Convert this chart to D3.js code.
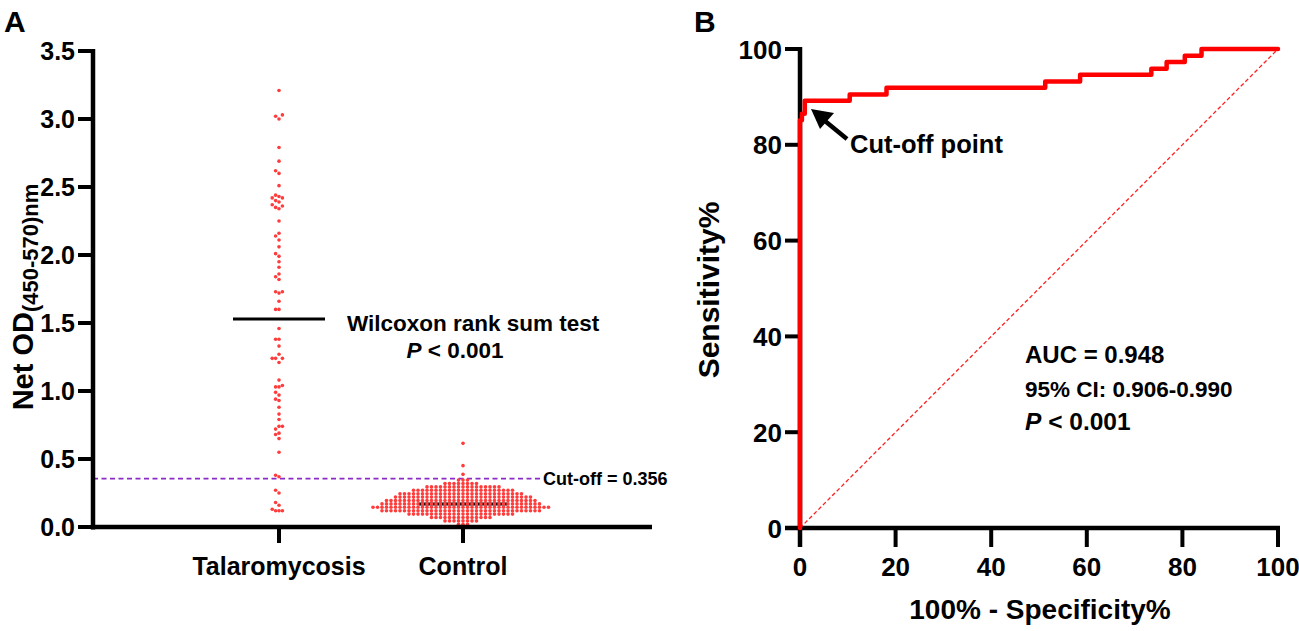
<!DOCTYPE html>
<html>
<head>
<meta charset="utf-8">
<script src="https://d3js.org/d3.v7.min.js"></script>
<style>
  body { margin: 0; background: #fff; }
  svg { display: block; }
  text { font-family: "Liberation Sans", Arial, sans-serif; font-weight: bold; fill: #000; }
</style>
</head>
<body>
<script>
// ---- data ----
var groups = ["Talaromycosis", "Control"];
var yTicksA = [0, 0.5, 1.0, 1.5, 2.0, 2.5, 3.0, 3.5];

var talaroValues = [3.21, 3.03, 3.02, 3.00, 2.79, 2.69, 2.62, 2.60, 2.51, 2.44, 2.43, 2.42, 2.42,
  2.40, 2.39, 2.37, 2.36, 2.35, 2.34, 2.25, 2.16, 2.14, 2.11, 2.06, 2.01, 1.99, 1.95, 1.91,
  1.86, 1.84, 1.82, 1.73, 1.72, 1.73, 1.66, 1.60, 1.60, 1.46, 1.38, 1.38, 1.33, 1.27, 1.24,
  1.24, 1.24, 1.21, 1.08, 1.04, 1.03, 1.03, 0.99, 0.97, 0.94, 0.93, 0.88, 0.83, 0.79, 0.74,
  0.74, 0.72, 0.69, 0.68, 0.65, 0.55, 0.38, 0.37, 0.27, 0.25, 0.18, 0.16, 0.13, 0.12, 0.12, 0.12];

// controls: dense rows of dots, value of each row and how many dots in it
var controlLevels = [0.02, 0.045, 0.07, 0.095, 0.12, 0.145, 0.17, 0.195, 0.22, 0.245, 0.27, 0.295, 0.32, 0.345];
var controlCounts = [3, 8, 14, 24, 36, 40, 36, 34, 31, 28, 23, 17, 8, 3];
var controlOutliers = [0.387, 0.451, 0.615];

var cutoffValue = 0.356;

// ROC: false positive rate (%) where sensitivity (%) steps up
var rocFpr = [0, 0, 0.4, 1.0, 10.4, 18.1, 51.3, 58.6, 73.5, 76.7, 80.5, 84.0, 100];
var rocTpr = [0, 85.1, 86.5, 89.2, 90.5, 91.9, 93.2, 94.6, 95.9, 97.3, 98.6, 100, 100];
var ticksB = [0, 20, 40, 60, 80, 100];

// ---- setup ----
var W = 1299, H = 631;
var red = "#ff3b3b";

var svg = d3.select("body").append("svg")
    .attr("width", W)
    .attr("height", H);

function label(g, x, y, str, size, anchor, rot) {
  return g.append("text")
    .attr("transform", "translate(" + x + "," + y + ")" + (rot ? " rotate(" + rot + ")" : ""))
    .attr("text-anchor", anchor || "start")
    .style("font-size", size + "px")
    .text(str);
}

// ================= Panel A =================
var gA = svg.append("g");
var yA = d3.scaleLinear().domain([0, 3.5]).range([527, 51]);
var xA = d3.scalePoint().domain(groups).range([279, 463]);
var axisLeftA = 93, axisRightA = 652;

// cut-off dashed line
gA.append("line")
  .attr("x1", axisLeftA).attr("x2", 540)
  .attr("y1", yA(cutoffValue)).attr("y2", yA(cutoffValue))
  .attr("stroke", "#8a2bc8").attr("stroke-width", 1.7)
  .attr("stroke-dasharray", "5,3.5");
label(gA, 543, yA(cutoffValue) + 6, "Cut-off = 0.356", 18);

// swarm layout: each dot pushed sideways until it clears its neighbours
function swarm(values, cx, stepX, minDy) {
  var placed = [];
  values.slice().sort(function (a, b) { return a - b; }).forEach(function (v) {
    var y = yA(v);
    for (var k = 0; ; k++) {
      var off = k === 0 ? 0 : (k % 2 ? -Math.ceil(k / 2) : Math.ceil(k / 2)) * stepX;
      var x = cx + off;
      var hit = placed.some(function (p) {
        return Math.abs(p.y - y) < minDy && Math.abs(p.x - x) < stepX * 0.99;
      });
      if (!hit) { placed.push({ x: x, y: y, v: v }); break; }
    }
  });
  return placed;
}

var controlValues = [];
controlLevels.forEach(function (lv, i) {
  for (var j = 0; j < controlCounts[i]; j++) controlValues.push(lv);
});
controlValues = controlValues.concat(controlOutliers);

// medians
var medT = d3.median(talaroValues), medC = d3.median(controlValues);
gA.append("line")
  .attr("x1", xA("Talaromycosis") - 46).attr("x2", xA("Talaromycosis") + 46)
  .attr("y1", yA(medT)).attr("y2", yA(medT))
  .attr("stroke", "#000").attr("stroke-width", 3);
gA.append("line")
  .attr("x1", xA("Control") - 44).attr("x2", xA("Control") + 44)
  .attr("y1", yA(medC)).attr("y2", yA(medC))
  .attr("stroke", "#000").attr("stroke-width", 3);

var dotsT = swarm(talaroValues, xA("Talaromycosis"), 3.4, 4.4);
var dotsC = swarm(controlValues, xA("Control"), 4.5, 3.0);

gA.selectAll("circle.dot")
  .data(dotsT.concat(dotsC))
  .enter().append("circle")
  .attr("class", "dot")
  .attr("cx", function (d) { return d.x; })
  .attr("cy", function (d) { return d.y; })
  .attr("r", 1.8)
  .attr("fill", red);

// axes A
gA.append("line").attr("x1", axisLeftA).attr("x2", axisLeftA)
  .attr("y1", yA(3.5) - 2).attr("y2", 529.5)
  .attr("stroke", "#000").attr("stroke-width", 4.5);
gA.append("line").attr("x1", axisLeftA - 2).attr("x2", axisRightA)
  .attr("y1", 527).attr("y2", 527)
  .attr("stroke", "#000").attr("stroke-width", 4.5);

yTicksA.forEach(function (t) {
  gA.append("line").attr("x1", axisLeftA - 15).attr("x2", axisLeftA)
    .attr("y1", yA(t)).attr("y2", yA(t))
    .attr("stroke", "#000").attr("stroke-width", 4);
  label(gA, axisLeftA - 18, yA(t) + 9, d3.format(".1f")(t), 25, "end");
});
groups.forEach(function (g) {
  gA.append("line").attr("x1", xA(g)).attr("x2", xA(g))
    .attr("y1", 527).attr("y2", 543)
    .attr("stroke", "#000").attr("stroke-width", 4);
  label(gA, xA(g), 575, g, 25, "middle");
});

// y label A
var yl = gA.append("text")
  .attr("transform", "translate(33,297) rotate(-90)")
  .attr("text-anchor", "middle")
  .style("font-size", "29px");
yl.append("tspan").text("Net OD");
yl.append("tspan").attr("dy", 5).style("font-size", "22px").text("(450-570)nm");

// annotation
label(gA, 347, 331, "Wilcoxon rank sum test", 22.5);
var pA = gA.append("text")
  .attr("transform", "translate(455,358)")
  .attr("text-anchor", "middle")
  .style("font-size", "22.5px");
pA.append("tspan").style("font-style", "italic").text("P");
pA.append("tspan").text(" < 0.001");

label(gA, 4, 32, "A", 30);

// ================= Panel B =================
var gB = svg.append("g");
var xB = d3.scaleLinear().domain([0, 100]).range([800, 1278]);
var yB = d3.scaleLinear().domain([0, 100]).range([528, 49]);

// axes B
gB.append("line").attr("x1", xB(0)).attr("x2", xB(0))
  .attr("y1", yB(100) - 2).attr("y2", 547)
  .attr("stroke", "#000").attr("stroke-width", 4.5);
gB.append("line").attr("x1", xB(0) - 15).attr("x2", xB(100) + 2)
  .attr("y1", yB(0)).attr("y2", yB(0))
  .attr("stroke", "#000").attr("stroke-width", 4.5);
ticksB.forEach(function (t) {
  gB.append("line").attr("x1", xB(0) - 15).attr("x2", xB(0))
    .attr("y1", yB(t)).attr("y2", yB(t))
    .attr("stroke", "#000").attr("stroke-width", 4);
  label(gB, xB(0) - 18, yB(t) + 9.5, String(t), 26, "end");
  gB.append("line").attr("x1", xB(t)).attr("x2", xB(t))
    .attr("y1", yB(0)).attr("y2", yB(0) + 19)
    .attr("stroke", "#000").attr("stroke-width", 4);
  label(gB, xB(t), 576, String(t), 26, "middle");
});

// diagonal reference line
gB.append("line")
  .attr("x1", xB(0)).attr("y1", yB(0)).attr("x2", xB(100)).attr("y2", yB(100))
  .attr("stroke", "#ff2020").attr("stroke-width", 1.3)
  .attr("stroke-dasharray", "4,2.5");

// ROC curve
var roc = rocFpr.map(function (f, i) { return [f, rocTpr[i]]; });
gB.append("path")
  .datum(roc)
  .attr("d", d3.line()
    .x(function (d) { return xB(d[0]); })
    .y(function (d) { return yB(d[1]); })
    .curve(d3.curveStepAfter))
  .attr("fill", "none")
  .attr("stroke", "#ff0000")
  .attr("stroke-width", 4.5)
  .attr("stroke-linejoin", "round")
  .attr("stroke-linecap", "round");

// cut-off arrow
gB.append("line").attr("x1", 847).attr("y1", 139).attr("x2", 825).attr("y2", 121)
  .attr("stroke", "#000").attr("stroke-width", 4.5);
gB.append("path")
  .attr("d", "M811,109 L834,113 L820,129 Z")
  .attr("fill", "#000");
label(gB, 850, 153, "Cut-off point", 25.5);

label(gB, 1025, 363, "AUC = 0.948", 24);
label(gB, 1025, 397, "95% CI: 0.906-0.990", 22.5);
var pB = gB.append("text")
  .attr("transform", "translate(1025,430)")
  .style("font-size", "24.5px");
pB.append("tspan").style("font-style", "italic").text("P");
pB.append("tspan").text(" < 0.001");

label(gB, 719, 290, "Sensitivity%", 30, "middle", -90);
label(gB, 1040, 619, "100% - Specificity%", 28, "middle");
label(gB, 694, 32, "B", 30);
</script>
</body>
</html>
